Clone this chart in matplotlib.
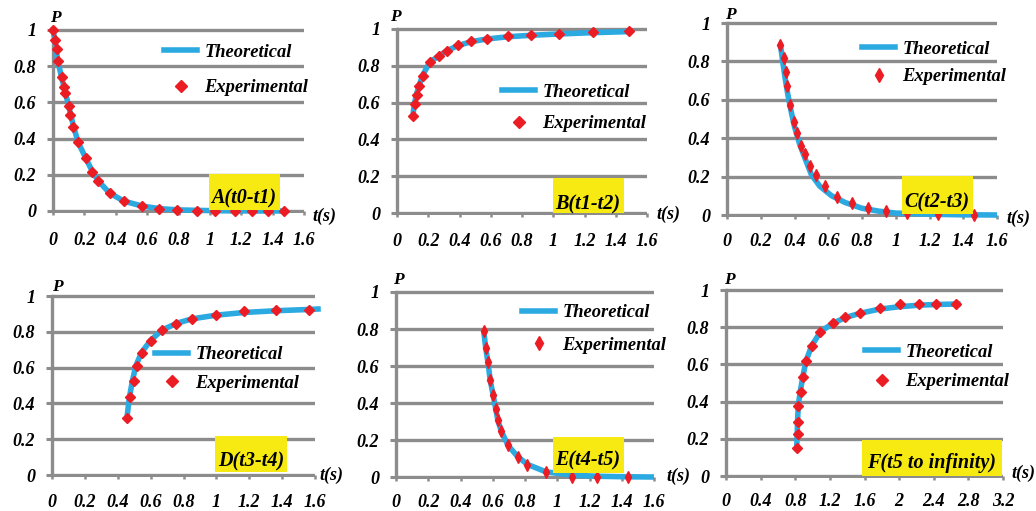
import matplotlib
matplotlib.use('Agg')
import matplotlib.pyplot as plt
from matplotlib.lines import Line2D
from matplotlib.patches import Rectangle
from matplotlib.font_manager import FontProperties

# ---------------- data ----------------
a_exp_t = [0.0, 0.015, 0.025, 0.03, 0.057, 0.068, 0.074, 0.10, 0.11, 0.13, 0.16, 0.21, 0.25,
           0.29, 0.365, 0.45, 0.57, 0.675, 0.79, 0.92, 1.03, 1.16, 1.27, 1.37, 1.475]
a_exp_p = [1.0, 0.945, 0.895, 0.83, 0.74, 0.686, 0.65, 0.58, 0.533, 0.465, 0.38, 0.293, 0.216,
           0.166, 0.10, 0.055, 0.026, 0.011, 0.007, 0.0, 0.0, 0.0, 0.0, 0.0, 0.0]
a_th_t = [0.0, 0.015, 0.03, 0.06, 0.10, 0.13, 0.16, 0.21, 0.25, 0.29, 0.36, 0.45, 0.57, 0.68,
          0.80, 0.95, 1.10, 1.30, 1.49]
a_th_p = [1.0, 0.93, 0.83, 0.72, 0.58, 0.47, 0.38, 0.29, 0.22, 0.165, 0.10, 0.055, 0.027, 0.013,
          0.006, 0.003, 0.001, 0.0, 0.0]

b_exp_t = [0.102, 0.113, 0.126, 0.139, 0.164, 0.209, 0.269, 0.32, 0.39, 0.476, 0.574, 0.71,
           0.86, 1.037, 1.252, 1.487]
b_exp_p = [0.529, 0.592, 0.64, 0.69, 0.746, 0.819, 0.853, 0.882, 0.911, 0.933, 0.946, 0.96,
           0.969, 0.975, 0.982, 0.989]
b_th_t = [0.102, 0.106, 0.113, 0.126, 0.14, 0.165, 0.21, 0.27, 0.32, 0.39, 0.48, 0.57, 0.71,
          0.86, 1.04, 1.25, 1.49]
b_th_p = [0.525, 0.56, 0.60, 0.65, 0.69, 0.75, 0.82, 0.855, 0.882, 0.91, 0.932, 0.945, 0.958,
          0.966, 0.973, 0.98, 0.986]

c_exp_t = [0.316, 0.336, 0.348, 0.356, 0.375, 0.397, 0.417, 0.439, 0.46, 0.494, 0.526, 0.579,
           0.652, 0.739, 0.836, 0.945, 1.069, 1.253, 1.464]
c_exp_p = [0.887, 0.817, 0.744, 0.673, 0.572, 0.485, 0.426, 0.36, 0.316, 0.256, 0.21, 0.153,
           0.096, 0.064, 0.037, 0.023, 0.009, 0.003, 0.0]
c_th_t = [0.316, 0.33, 0.345, 0.36, 0.38, 0.40, 0.43, 0.46, 0.50, 0.55, 0.62, 0.70, 0.80,
          0.90, 1.00, 1.20, 1.40, 1.60]
c_th_p = [0.89, 0.80, 0.71, 0.63, 0.54, 0.46, 0.37, 0.30, 0.21, 0.15, 0.10, 0.065, 0.035,
          0.02, 0.01, 0.004, 0.001, 0.0]

d_exp_t = [0.456, 0.476, 0.496, 0.516, 0.545, 0.602, 0.672, 0.757, 0.851, 0.998, 1.167,
           1.365, 1.566]
d_exp_p = [0.32, 0.437, 0.526, 0.61, 0.684, 0.751, 0.812, 0.846, 0.874, 0.896, 0.914,
           0.924, 0.924]
d_th_t = [0.456, 0.47, 0.49, 0.51, 0.545, 0.60, 0.67, 0.76, 0.85, 1.00, 1.17, 1.37, 1.57, 1.635]
d_th_p = [0.32, 0.43, 0.53, 0.61, 0.685, 0.752, 0.81, 0.848, 0.872, 0.893, 0.908, 0.918,
          0.925, 0.928]

e_exp_t = [0.544, 0.559, 0.573, 0.586, 0.604, 0.619, 0.631, 0.652, 0.695, 0.755, 0.814,
           0.93, 1.089, 1.247, 1.439]
e_exp_p = [0.787, 0.697, 0.622, 0.523, 0.441, 0.369, 0.306, 0.247, 0.171, 0.11, 0.067,
           0.025, 0.0, 0.0, 0.0]
e_th_t = [0.544, 0.556, 0.57, 0.585, 0.603, 0.618, 0.632, 0.652, 0.695, 0.755, 0.815, 0.93,
          1.09, 1.25, 1.45, 1.60]
e_th_p = [0.79, 0.70, 0.62, 0.52, 0.44, 0.37, 0.305, 0.25, 0.17, 0.11, 0.068, 0.028, 0.01,
          0.004, 0.001, 0.0]

f_exp_t = [0.817, 0.829, 0.829, 0.829, 0.867, 0.894, 0.925, 0.991, 1.091, 1.234, 1.376, 1.55,
           1.774, 2.005, 2.224, 2.421, 2.66]
f_exp_p = [0.149, 0.224, 0.292, 0.376, 0.453, 0.534, 0.62, 0.699, 0.776, 0.821, 0.855, 0.875,
           0.905, 0.925, 0.925, 0.925, 0.925]
f_th_t = [0.817, 0.822, 0.827, 0.835, 0.86, 0.89, 0.925, 0.99, 1.09, 1.23, 1.38, 1.55, 1.77,
          2.00, 2.22, 2.42, 2.71]
f_th_p = [0.15, 0.22, 0.30, 0.38, 0.46, 0.54, 0.62, 0.70, 0.775, 0.82, 0.852, 0.875, 0.897,
          0.91, 0.918, 0.922, 0.925]

x_ticks_short = [0, 0.2, 0.4, 0.6, 0.8, 1, 1.2, 1.4, 1.6]
x_ticks_long = [0, 0.4, 0.8, 1.2, 1.6, 2, 2.4, 2.8, 3.2]
y_ticks = [0, 0.2, 0.4, 0.6, 0.8, 1]
panel_labels = ['A(t0-t1)', 'B(t1-t2)', 'C(t2-t3)', 'D(t3-t4)', 'E(t4-t5)', 'F(t5 to infinity)']
legend_labels = ['Theoretical', 'Experimental']

# ---------------- style ----------------
W, H = 1036, 511
fig = plt.figure(figsize=(W / 100, H / 100), dpi=100)
fig.patch.set_facecolor('white')

FAM = 'Liberation Serif'
BLUE = '#2BA9E1'
RED = '#EC1C24'
GRAY = '#8C8C8C'
YEL = '#F6EA12'


def fp(size):
    return FontProperties(family=FAM, weight='bold', style='italic', size=size)


def fx(x):
    return x / W


def fy(y):
    return 1 - y / H


def panel(x0, x1, ytop, ybot, xticks, xpad, th_t, th_p, ex_t, ex_p, marker, ms, lms,
          leg_xy, leg_sp, box, lab, lab_xy, p_xy, ts_xy):
    ppu = ybot - ytop
    ext = 0.012
    ax = fig.add_axes([fx(x0), fy(ybot + ext * ppu), (x1 - x0) / W, ppu * (1 + 2 * ext) / H])
    ax.set_xlim(0, xticks[-1])
    ax.set_ylim(-ext, 1 + ext)
    ax.patch.set_alpha(0)
    for s in ['top', 'right', 'bottom']:
        ax.spines[s].set_visible(False)
    ax.spines['left'].set_color(GRAY)
    ax.spines['left'].set_linewidth(2.4)
    ax.spines['left'].set_bounds(0, 1)
    ax.set_yticks(y_ticks)
    ax.set_yticklabels([f'{v:g}' for v in y_ticks], fontproperties=fp(13))
    ax.set_xticks(xticks)
    ax.set_xticklabels([f'{v:g}' for v in xticks], fontproperties=fp(13))
    ax.tick_params(axis='y', length=4, width=2.2, color=GRAY, pad=8)
    ax.tick_params(axis='x', length=3, width=1.8, color=GRAY, pad=xpad, direction='inout')
    ax.grid(axis='y', color=GRAY, lw=2.4, zorder=0)
    ax.set_axisbelow(True)
    ax.plot(th_t, th_p, color=BLUE, lw=4.0, solid_capstyle='butt', clip_on=False, zorder=3)
    ax.plot(ex_t, ex_p, ls='none', marker=marker, ms=ms, color=RED, mec=RED, clip_on=False,
            zorder=4)
    handles = [Line2D([], [], color=BLUE, lw=4),
               Line2D([], [], ls='none', marker=marker, ms=lms, color=RED)]
    ax.legend(handles, legend_labels, loc='center left', bbox_to_anchor=(fx(leg_xy[0]), fy(leg_xy[1])),
              bbox_transform=fig.transFigure, frameon=False, borderpad=0, borderaxespad=0,
              handlelength=1.8, handletextpad=0.4, labelspacing=leg_sp, prop=fp(13.3))
    bx0, by0, bx1, by1 = box
    fig.patches.append(Rectangle((fx(bx0), fy(by1)), (bx1 - bx0) / W, (by1 - by0) / H,
                                 transform=fig.transFigure, facecolor=YEL, edgecolor='none',
                                 zorder=1))
    fig.text(fx(lab_xy[0]), fy(lab_xy[1]), lab, ha='center', va='center', fontproperties=fp(14.5),
             zorder=5)
    fig.text(fx(p_xy[0]), fy(p_xy[1]), 'P', ha='center', va='center', fontproperties=fp(12.5))
    fig.text(fx(ts_xy[0]), fy(ts_xy[1]), 't(s)', ha='center', va='center', fontproperties=fp(13))
    return ax


panel(53, 304, 30, 211, x_ticks_short, 12, a_th_t, a_th_p, a_exp_t, a_exp_p, 'D', 5.0, 6.5,
      (164, 70), 1.0, (209, 174, 280, 210), panel_labels[0], (244, 198), (55, 18), (324, 216))
panel(397, 647, 29, 213, x_ticks_short, 11, b_th_t, b_th_p, b_exp_t, b_exp_p, 'D', 5.0, 6.5,
      (502, 108), 0.8, (553, 178, 624, 213), panel_labels[1], (588, 204), (395, 17), (668, 214))
panel(727, 997, 23, 215, x_ticks_short, 10, c_th_t, c_th_p, c_exp_t, c_exp_p, 'd', 5.8, 7.5,
      (862, 63), 0.58, (902, 176, 973, 214), panel_labels[2], (937, 202), (730, 15), (1018, 218))
panel(52, 315, 296, 475, x_ticks_short, 10.5, d_th_t, d_th_p, d_exp_t, d_exp_p, 'D', 5.0, 6.5,
      (155, 369), 0.64, (215, 436, 287, 472), panel_labels[3], (251, 461), (57, 287), (331, 475))
panel(396, 654, 292, 477, x_ticks_short, 9, e_th_t, e_th_p, e_exp_t, e_exp_p, 'd', 5.8, 7.5,
      (522, 329), 0.85, (553, 437, 624, 473), panel_labels[4], (588, 460), (398, 280), (678, 476))
panel(726, 1003, 290, 476, x_ticks_long, 9, f_th_t, f_th_p, f_exp_t, f_exp_p, 'D', 5.0, 6.5,
      (865, 367), 0.7, (862, 440, 1002, 476), panel_labels[5], (932, 463), (729, 280), (1023, 473))

fig.savefig('out.png', dpi=100)
